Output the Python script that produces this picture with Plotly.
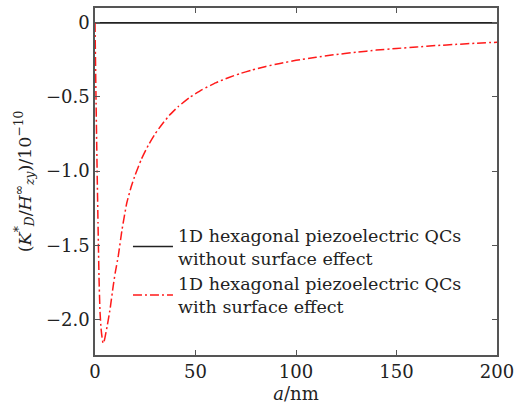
import plotly.graph_objects as go

# Length a (nm) and normalised intensity factor K_D*/H_zy^inf (x 1e-10)
a_nm = [0, 0.5, 1, 1.5, 2, 2.5, 3, 3.5, 4, 4.5, 5, 6, 7.5, 9, 10, 11.6, 13.5, 15.8,
        18, 20, 23, 26.5, 30, 33.2, 37, 41.4, 47, 53.1, 60, 66.3, 72, 78, 85, 92,
        100, 110, 118.6, 130, 140, 150, 160, 170, 180, 190, 200]
k_surface = [0, -0.5, -0.95, -1.35, -1.72, -1.95, -2.06, -2.12, -2.16, -2.15, -2.12,
             -2.05, -1.93, -1.78, -1.69, -1.57, -1.39, -1.215,
             -1.106, -1.025, -0.922, -0.826, -0.747, -0.687, -0.624, -0.565, -0.504,
             -0.452, -0.405, -0.370, -0.343, -0.319, -0.294, -0.274,
             -0.253, -0.232, -0.216, -0.198, -0.184, -0.173, -0.163, -0.153, -0.145,
             -0.137, -0.131]
a_flat = [0, 200]
k_no_surface = [0, 0]

y_ticks = [0, -0.5, -1.0, -1.5, -2.0]
y_labels = ["0", "\u22120.5", "\u22121.0", "\u22121.5", "\u22122.0"]
x_ticks = [0, 50, 100, 150, 200]
x_labels = ["0", "50", "100", "150", "200"]

font_family = "DejaVu Serif"
axis_color = "#555555"
text_color = "#222222"

fig = go.Figure()
fig.add_trace(go.Scatter(
    x=a_flat, y=k_no_surface, mode="lines",
    line=dict(color="#222222", width=1.6),
    name="1D hexagonal piezoelectric QCs<br>without surface effect",
))
fig.add_trace(go.Scatter(
    x=a_nm, y=k_surface, mode="lines",
    line=dict(color="#ff1a1a", width=1.5, dash="9px,3px,2px,3px", shape="spline", smoothing=0.4),
    name="1D hexagonal piezoelectric QCs<br>with surface effect",
))

axis_common = dict(
    showgrid=False, zeroline=False, showline=True, linecolor=axis_color,
    linewidth=1.5, mirror="ticks", ticks="inside", ticklen=5, tickwidth=1.3,
    tickcolor=axis_color, tickfont=dict(family=font_family, size=18, color=text_color),
)

fig.update_layout(
    width=523, height=412,
    margin=dict(l=95, r=26, t=6, b=57),
    paper_bgcolor="white", plot_bgcolor="white",
    font=dict(family=font_family, color=text_color),
    showlegend=True,
    legend=dict(
        x=0.082, y=0.397, xanchor="left", yanchor="top",
        bgcolor="rgba(0,0,0,0)", borderwidth=0, itemwidth=40,
        font=dict(family=font_family, size=17.5, color=text_color),
    ),
    xaxis=dict(
        range=[0, 200], tickvals=x_ticks, ticktext=x_labels,
        title=dict(text="<i>a</i>/nm", font=dict(family=font_family, size=18), standoff=6),
        **axis_common,
    ),
    yaxis=dict(
        range=[-2.24, 0.1], tickvals=y_ticks, ticktext=y_labels,
        title=dict(
            text="(<i>K</i><sup>*</sup><sub><i>D</i></sub>/<i>H</i><sup>\u221e</sup><sub><i>zy</i></sub>)/10<sup>\u221210</sup>",
            font=dict(family=font_family, size=17.5), standoff=10,
        ),
        **axis_common,
    ),
)

fig.write_html("out.html")
